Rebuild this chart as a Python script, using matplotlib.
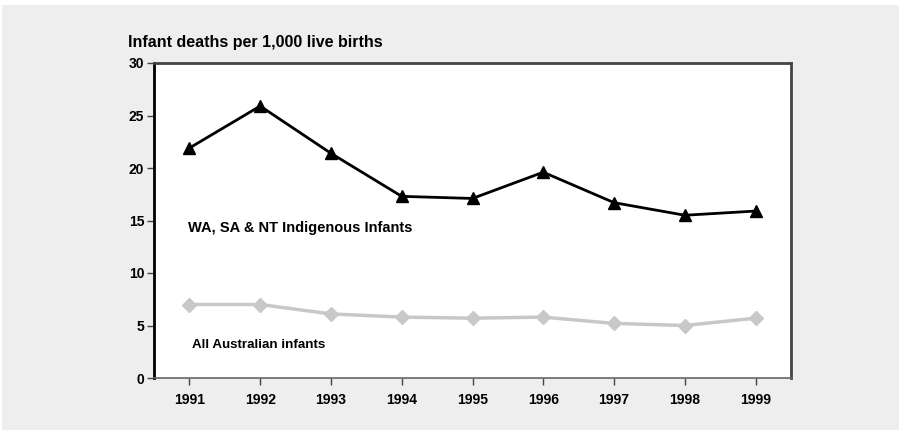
import matplotlib
matplotlib.use("Agg")
import matplotlib.pyplot as plt
from matplotlib.patches import Rectangle

years = ["1991", "1992", "1993", "1994", "1995", "1996", "1997", "1998", "1999"]
indigenous = [21.9, 25.9, 21.4, 17.3, 17.1, 19.6, 16.7, 15.5, 15.9]
all_australian = [7.0, 7.0, 6.1, 5.8, 5.7, 5.8, 5.2, 5.0, 5.7]
y_ticks = [0, 5, 10, 15, 20, 25, 30]
label_indigenous = "WA, SA & NT Indigenous Infants"
label_all = "All Australian infants"
title = "Infant deaths per 1,000 live births"

plt.rcParams['font.family'] = ['Liberation Sans', 'DejaVu Sans']

fig = plt.figure(figsize=(8.99, 4.30), dpi=100)
fig.patch.set_facecolor('white')
fig.patches.append(Rectangle((2/899, 0), 1, 1 - 5/430, transform=fig.transFigure,
                             facecolor='#eeeeee', edgecolor='none', zorder=-10))

ax = fig.add_axes([154/899, 52/430, (791-154)/899, (378-63)/430])
ax.set_facecolor('white')

x = list(range(1, len(years) + 1))
ax.plot(x, all_australian, color='#c8c8c8', lw=2.5, marker='D', markersize=7,
        markeredgecolor='#c8c8c8', zorder=3, clip_on=False)
ax.plot(x, indigenous, color='black', lw=2, marker='^', markersize=9,
        markeredgecolor='black', zorder=4, clip_on=False)

ax.set_xlim(0.5, len(years) + 0.5)
ax.set_ylim(0, 30)
ax.set_xticks(x)
ax.set_xticklabels(years, fontsize=10, fontweight='bold')
ax.set_yticks(y_ticks)
ax.set_yticklabels([str(t) for t in y_ticks], fontsize=10, fontweight='bold')

ax.spines['left'].set_color('black')
ax.spines['left'].set_linewidth(2)
ax.spines['top'].set_color('#444444')
ax.spines['top'].set_linewidth(2)
ax.spines['right'].set_color('#444444')
ax.spines['right'].set_linewidth(2)
ax.spines['bottom'].set_color('#666666')
ax.spines['bottom'].set_linewidth(1.2)

ax.tick_params(axis='y', direction='out', length=5, width=1, color='#444444', pad=2)
ax.tick_params(axis='x', direction='out', length=5, width=1, color='#444444', pad=6)

ax.text(0.98, 14.3, label_indigenous, fontsize=10.5, fontweight='bold', ha='left', va='center')
ax.text(1.03, 3.1, label_all, fontsize=9.6, fontweight='bold', ha='left', va='center')

fig.text(128/899, 1 - 42/430, title, fontsize=11.5, fontweight='bold', ha='left', va='center')

fig.savefig("out.png", dpi=100)
